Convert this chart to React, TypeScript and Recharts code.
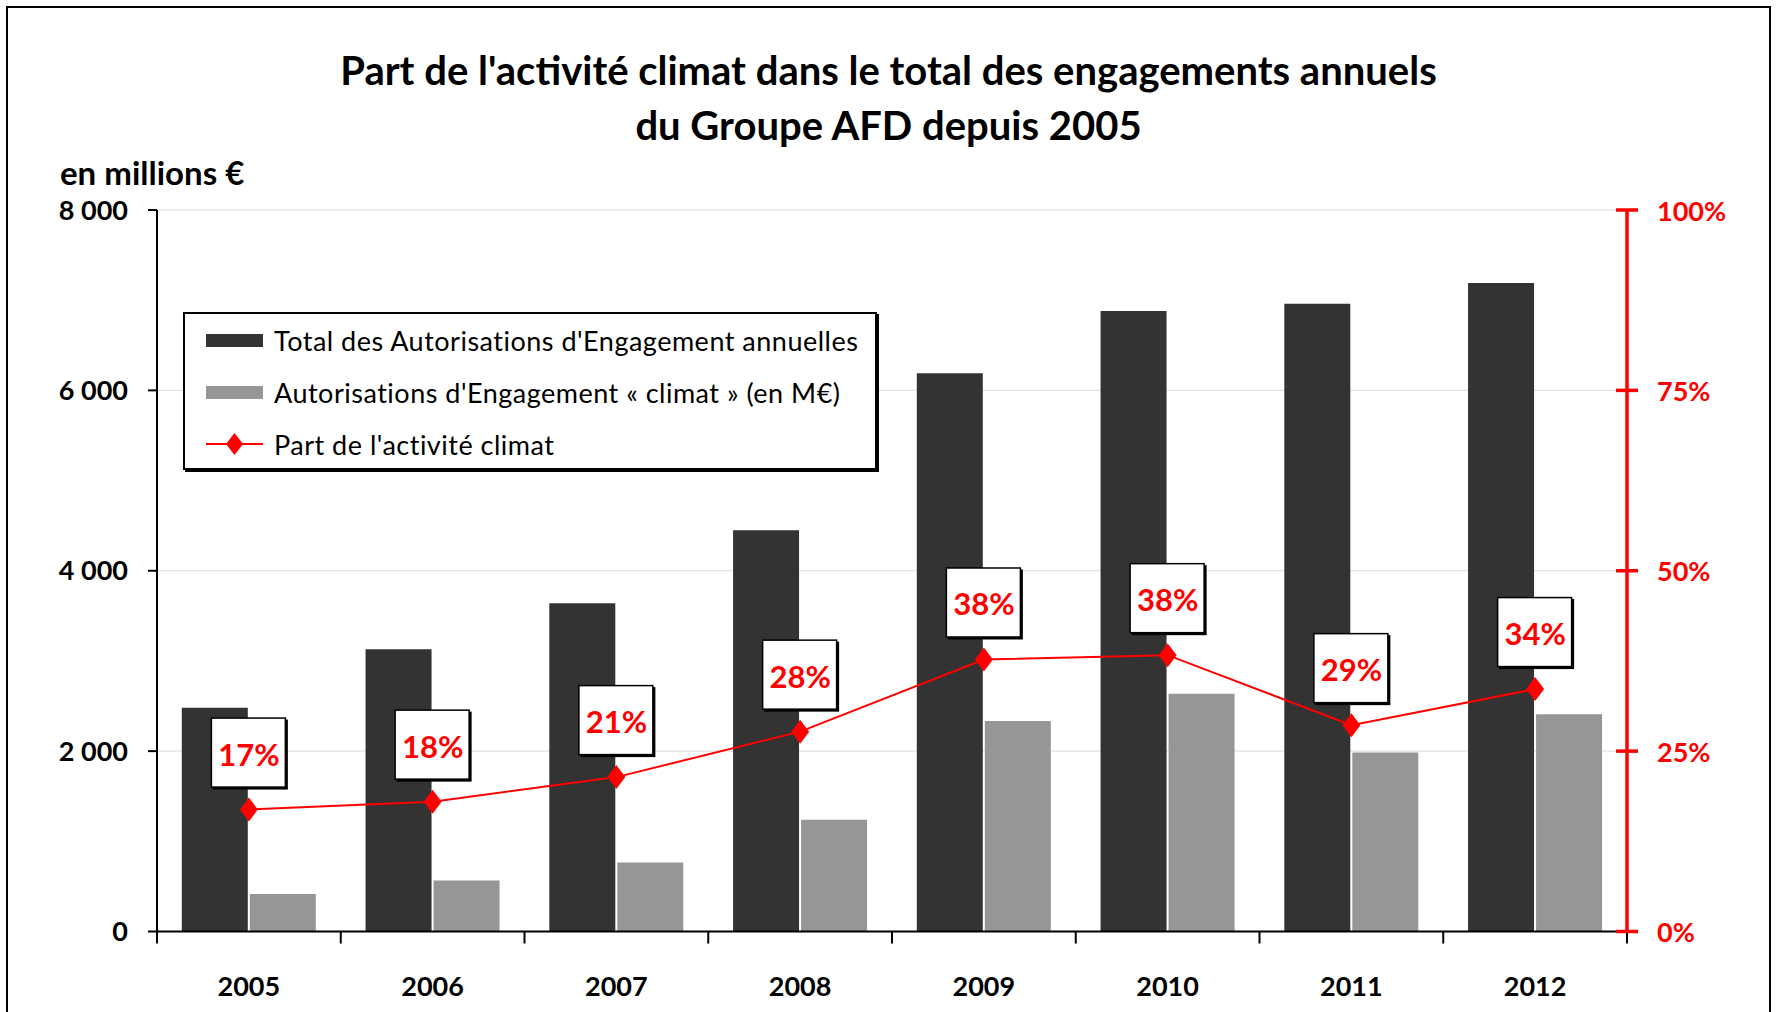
import React from "react";
import { Bar, CartesianGrid, ComposedChart, LabelList, Legend, Line, XAxis, YAxis } from "recharts";

const years = ["2005", "2006", "2007", "2008", "2009", "2010", "2011", "2012"];
const totalEngagements = [2480, 3130, 3640, 4450, 6190, 6880, 6960, 7190];
const climateEngagements = [415, 565, 765, 1240, 2335, 2635, 1985, 2410];
const climateShare = [0.169, 0.18, 0.214, 0.277, 0.377, 0.383, 0.286, 0.336];
const shareLabels = ["17%", "18%", "21%", "28%", "38%", "38%", "29%", "34%"];
const leftTicks = [0, 2000, 4000, 6000, 8000];
const rightTicks = [0, 0.25, 0.5, 0.75, 1];

const data = years.map((year, i) => ({
  year,
  total: totalEngagements[i],
  climat: climateEngagements[i],
  part: climateShare[i],
  label: shareLabels[i],
}));

const W = 1777;
const H = 1012;
const LEFT_W = 157;
const RIGHT_W = 150;
const BAND = (W - LEFT_W - RIGHT_W) / years.length;
const FONT = "Lato, 'Open Sans', sans-serif";
const RED = "#FF0000";
const DARK = "#333333";
const GREY = "#969696";

function formatThousands(v: number): string {
  if (v === 0) return "0";
  return `${Math.floor(v / 1000)} ${String(v % 1000).padStart(3, "0")}`;
}

function YearTick(props: any) {
  const { x, y, payload, index } = props;
  const last = index === years.length - 1;
  return (
    <g>
      <line x1={x - BAND / 2} x2={x - BAND / 2} y1={y} y2={y + 12} stroke="#000" strokeWidth={2} />
      {last && <line x1={x + BAND / 2} x2={x + BAND / 2} y1={y} y2={y + 12} stroke="#000" strokeWidth={2} />}
      <text x={x} y={y + 54} textAnchor="middle" dominantBaseline="central" fontSize={27} fontWeight={700} fill="#000" fontFamily={FONT}>
        {payload.value}
      </text>
    </g>
  );
}

function PercentTick(props: any) {
  const { x, y, payload } = props;
  return (
    <g>
      <line x1={x - 11} x2={x + 11} y1={y} y2={y} stroke={RED} strokeWidth={3.5} />
      <text x={x + 30} y={y} dominantBaseline="central" fontSize={27} fontWeight={700} fill={RED} fontFamily={FONT}>
        {`${Math.round(payload.value * 100)}%`}
      </text>
    </g>
  );
}

function Diamond(props: any) {
  const { cx, cy } = props;
  if (cx == null || cy == null) return null;
  return <path d={`M${cx},${cy - 12} L${cx + 9},${cy} L${cx},${cy + 12} L${cx - 9},${cy} Z`} fill={RED} />;
}

function ShareLabel(props: any) {
  const x = props.x ?? props.viewBox?.x;
  const y = props.y ?? props.viewBox?.y;
  const { value } = props;
  if (x == null || y == null) return null;
  const cy = y - 56;
  return (
    <g>
      <rect x={x - 36} y={cy - 34} width={75} height={70} fill="#000" />
      <rect x={x - 37.5} y={cy - 35.5} width={74} height={69} fill="#fff" stroke="#000" strokeWidth={1.5} />
      <text x={x} y={cy} textAnchor="middle" dominantBaseline="central" fontSize={31} fontWeight={700} fill={RED} fontFamily={FONT}>
        {value}
      </text>
    </g>
  );
}

function LegendBox() {
  const row = { display: "flex", alignItems: "center", height: 52 } as const;
  const text = { fontSize: 27, letterSpacing: 0.5, color: "#000", marginLeft: 11, whiteSpace: "nowrap" as const };
  return (
    <div
      style={{
        width: 694,
        height: 158,
        border: "2px solid #000",
        boxShadow: "2px 2px 0 #000",
        background: "#fff",
        fontFamily: FONT,
        boxSizing: "border-box",
        paddingLeft: 21,
        paddingTop: 0,
      }}
    >
      <div style={row}>
        <div style={{ width: 57, height: 13, background: DARK }} />
        <span style={text}>Total des Autorisations d'Engagement annuelles</span>
      </div>
      <div style={row}>
        <div style={{ width: 57, height: 13, background: GREY }} />
        <span style={text}>Autorisations d'Engagement « climat » (en M€)</span>
      </div>
      <div style={row}>
        <svg width={57} height={24}>
          <line x1={0} x2={57} y1={12} y2={12} stroke={RED} strokeWidth={2} />
          <path d="M28.5,1 L37,12 L28.5,23 L20,12 Z" fill={RED} />
        </svg>
        <span style={text}>Part de l'activité climat</span>
      </div>
    </div>
  );
}

export default function App() {
  return (
    <div style={{ position: "absolute", left: 0, top: 0, width: W, height: H, overflow: "hidden", background: "#fff", fontFamily: FONT }}>
      <div style={{ position: "absolute", left: 6, top: 6, width: W - 12, height: H + 40, border: "2px solid #000", boxSizing: "border-box" }} />
      <div style={{ position: "absolute", left: 0, top: 43, width: W, textAlign: "center", fontSize: 40, fontWeight: 700, lineHeight: "55px", color: "#000" }}>
        Part de l'activité climat dans le total des engagements annuels
        <br />
        du Groupe AFD depuis 2005
      </div>
      <div style={{ position: "absolute", left: 60, top: 152, fontSize: 33, fontWeight: 700, lineHeight: "40px", color: "#000" }}>
        en millions €
      </div>
      <div style={{ position: "absolute", left: 0, top: 0 }}>
        <ComposedChart width={W} height={H} data={data} margin={{ top: 210, right: 0, bottom: 0, left: 0 }} barCategoryGap="13.5%" barGap={2}>
          <CartesianGrid vertical={false} stroke="#dcdcdc" strokeWidth={1} yAxisId="left" />
          <XAxis
            dataKey="year"
            height={80.5}
            axisLine={{ stroke: "#000", strokeWidth: 2 }}
            tickLine={false}
            tickSize={0}
            tickMargin={0}
            tick={<YearTick />}
            interval={0}
          />
          <YAxis
            yAxisId="left"
            width={LEFT_W}
            domain={[0, 8000]}
            ticks={leftTicks}
            tickFormatter={formatThousands}
            axisLine={{ stroke: "#000", strokeWidth: 2 }}
            tickLine={{ stroke: "#000", strokeWidth: 2 }}
            tickSize={9}
            tickMargin={20}
            tick={{ fontSize: 27, fontWeight: 700, fill: "#000", fontFamily: FONT }}
          />
          <YAxis
            yAxisId="right"
            orientation="right"
            width={RIGHT_W}
            domain={[0, 1]}
            ticks={rightTicks}
            axisLine={{ stroke: RED, strokeWidth: 3.5 }}
            tickLine={false}
            tickSize={0}
            tickMargin={0}
            tick={<PercentTick />}
          />
          <Legend
            layout="vertical"
            align="center"
            verticalAlign="middle"
            wrapperStyle={{ left: 183, top: 312, width: 700, height: 162 }}
            content={() => <LegendBox />}
          />
          <Bar yAxisId="left" dataKey="total" fill={DARK} isAnimationActive={false} />
          <Bar yAxisId="left" dataKey="climat" fill={GREY} isAnimationActive={false} />
          <Line
            yAxisId="right"
            dataKey="part"
            stroke={RED}
            strokeWidth={2}
            type="linear"
            dot={<Diamond />}
            activeDot={false}
            isAnimationActive={false}
          >
            <LabelList dataKey="label" content={<ShareLabel />} />
          </Line>
        </ComposedChart>
      </div>
    </div>
  );
}
